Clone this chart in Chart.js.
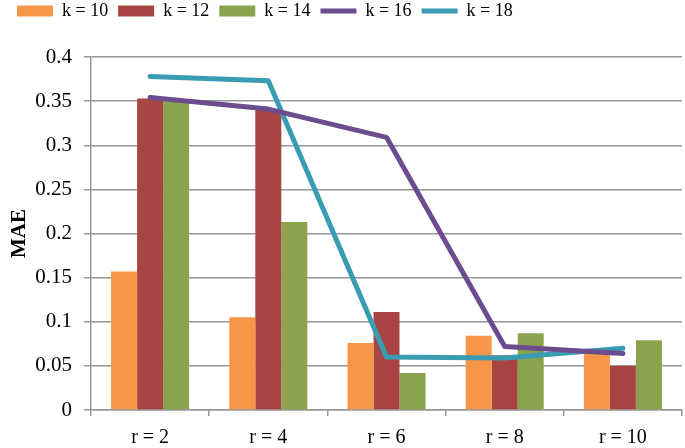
<!DOCTYPE html>
<html>
<head>
<meta charset="utf-8">
<script src="https://cdn.jsdelivr.net/npm/chart.js@4"></script>
<style>
html,body{margin:0;padding:0;background:#fff;}
#wrap{width:685px;height:448px;}
</style>
</head>
<body>
<div id="wrap"><canvas id="c" width="685" height="448"></canvas></div>
<script>
const categories = ['r = 2', 'r = 4', 'r = 6', 'r = 8', 'r = 10'];
const k10 = [0.157, 0.105, 0.076, 0.084, 0.064];
const k12 = [0.353, 0.341, 0.111, 0.062, 0.050];
const k14 = [0.350, 0.213, 0.042, 0.087, 0.079];
const k16 = [0.354, 0.341, 0.309, 0.072, 0.064];
const k18 = [0.378, 0.373, 0.060, 0.059, 0.070];
const seriesNames = ['k = 10', 'k = 12', 'k = 14', 'k = 16', 'k = 18'];
const yTickLabels = ['0', '0.05', '0.1', '0.15', '0.2', '0.25', '0.3', '0.35', '0.4'];

const serif = "'Liberation Serif', 'Times New Roman', serif";
const gridColor = '#979797';

const barDs = (label, data, color) => ({
  type: 'bar', label, data, backgroundColor: color, borderWidth: 0, order: 2,
  pointStyle: 'rect'
});
const lineDs = (label, data, color) => ({
  type: 'line', label, data, borderColor: color, backgroundColor: color,
  borderWidth: 5, pointRadius: 0, tension: 0, borderCapStyle: 'round',
  borderJoinStyle: 'round', order: 1, pointStyle: 'line', fill: false
});

const legendSpacer = {
  id: 'legendSpacer',
  beforeLayout(chart) {
    const lg = chart.legend;
    if (lg && !lg._patched) {
      const orig = lg.fit;
      lg.fit = function () { orig.call(this); this.height = 65; };
      lg._patched = true;
    }
  }
};

new Chart(document.getElementById('c'), {
  data: {
    labels: categories,
    datasets: [
      barDs(seriesNames[0], k10, '#F79646'),
      barDs(seriesNames[1], k12, '#A84542'),
      barDs(seriesNames[2], k14, '#8AA44E'),
      lineDs(seriesNames[3], k16, '#6A4C8F'),
      lineDs(seriesNames[4], k18, '#3A9CB3')
    ]
  },
  plugins: [legendSpacer],
  options: {
    responsive: false,
    animation: false,
    layout: { padding: { left: 7, right: 3, top: -8, bottom: 0 } },
    datasets: { bar: { barPercentage: 1, categoryPercentage: 0.66 } },
    plugins: {
      tooltip: { enabled: false },
      legend: {
        position: 'top',
        align: 'start',
        labels: {
          usePointStyle: true,
          pointStyleWidth: 36,
          boxHeight: 11,
          padding: 10,
          color: '#000',
          font: { family: serif, size: 18 },
          sort: (a, b) => a.datasetIndex - b.datasetIndex
        }
      }
    },
    scales: {
      x: {
        grid: {
          offset: true, drawOnChartArea: false, drawTicks: true,
          tickLength: 6, color: gridColor, lineWidth: 1.5
        },
        border: { color: gridColor, width: 1.5 },
        ticks: { color: '#000', font: { family: serif, size: 20 }, padding: 10 },
        afterFit: (s) => { s.height = 38; }
      },
      y: {
        min: 0, max: 0.4,
        grid: { color: gridColor, lineWidth: 1.5, tickLength: 7, drawTicks: true },
        border: { color: gridColor, width: 1.5 },
        ticks: {
          stepSize: 0.05, color: '#000', padding: 12,
          font: { family: serif, size: 21 },
          callback: (v, i) => yTickLabels[i]
        },
        title: {
          display: true, text: 'MAE', color: '#000', padding: { top: 0, bottom: 4 },
          font: { family: serif, size: 21, weight: 'bold' }
        },
        afterFit: (s) => { s.width = 84; }
      }
    }
  }
});
</script>
</body>
</html>
